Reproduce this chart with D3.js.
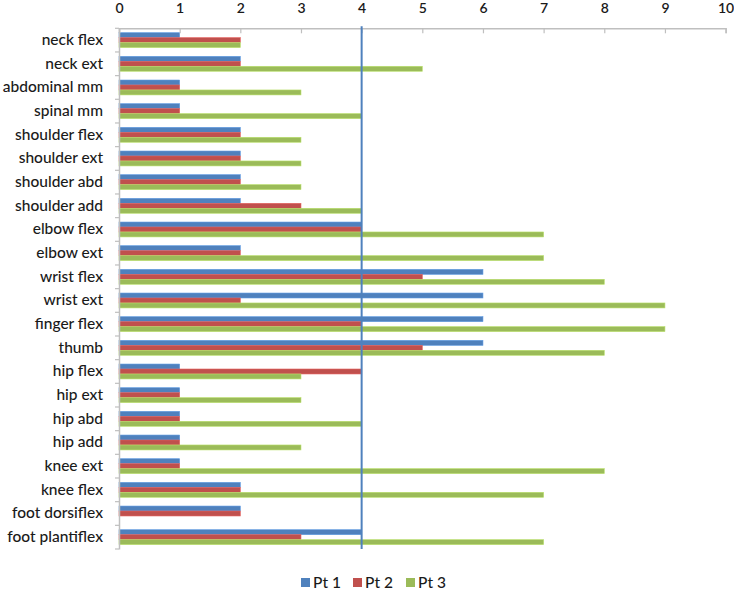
<!DOCTYPE html>
<html><head><meta charset="utf-8">
<script src="https://cdn.jsdelivr.net/npm/d3@7"></script>
<style>body{margin:0;background:#fff;} svg{display:block;}</style>
</head><body>
<svg id="c" width="734" height="590"></svg>
<script>
const categories = ["neck flex","neck ext","abdominal mm","spinal mm","shoulder flex","shoulder ext","shoulder abd","shoulder add","elbow flex","elbow ext","wrist flex","wrist ext","finger flex","thumb","hip flex","hip ext","hip abd","hip add","knee ext","knee flex","foot dorsiflex","foot plantiflex"];
const pt1 = [1,2,1,1,2,2,2,2,4,2,6,6,6,6,1,1,1,1,1,2,2,4];
const pt2 = [2,2,1,1,2,2,2,3,4,2,5,2,4,5,4,1,1,1,1,2,2,3];
const pt3 = [2,5,3,4,3,3,3,4,7,7,8,9,9,8,3,3,4,3,8,7,0,7];
const seriesNames = ["Pt 1","Pt 2","Pt 3"];
const seriesColors = ["#4F81BD","#C0504D","#9BBB59"];
const xTicks = [0,1,2,3,4,5,6,7,8,9,10];
const refValue = 4;

const series = [pt1, pt2, pt3];
const svg = d3.select("#c");
const pL = 119, pR = 725.6, pT = 28.3, pB = 549;
const x = d3.scaleLinear().domain([0,10]).range([pL,pR]);
const y = d3.scaleBand().domain(categories).range([pT,pB]).paddingInner(0.37).paddingOuter(0.185);
const sub = d3.scaleBand().domain([0,1,2]).range([0,y.bandwidth()]);
const font = "Lato, 'Open Sans', sans-serif";

// bars
const g = svg.append("g");
series.forEach((vals, si) => {
  g.selectAll(null).data(vals).enter().append("rect")
    .attr("x", x(0))
    .attr("y", (d,i) => y(categories[i]) + sub(si))
    .attr("width", d => Math.max(0, x(d) - x(0)))
    .attr("height", sub.bandwidth())
    .attr("fill", seriesColors[si])
    .attr("stroke", d3.color(seriesColors[si]).brighter(0.5))
    .attr("stroke-width", 0.6)
    .attr("display", d => d > 0 ? null : "none");
});

// top axis
const ax = svg.append("g").attr("transform", `translate(0,${pT})`)
  .call(d3.axisTop(x).tickValues(xTicks).tickSize(-5).tickPadding(15.5).tickFormat(d3.format("d")));
ax.select(".domain").attr("stroke", "#BFBFBF").attr("stroke-width", 1.5);
ax.selectAll(".tick line").attr("stroke", "#BFBFBF").attr("stroke-width", 1.2);
ax.selectAll(".tick text").attr("font-family", font).attr("font-size", 14).attr("fill", "#1a1a1a").attr("font-weight", 600);

// left axis
const band = (pB - pT) / categories.length;
const ay = svg.append("g").attr("transform", `translate(${pL},0)`)
  .call(d3.axisLeft(y).tickSize(0).tickPadding(16));
ay.select(".domain").attr("stroke", "#BFBFBF").attr("stroke-width", 1.5);
ay.selectAll(".tick text").attr("font-family", font).attr("font-size", 15.5).attr("fill", "#1a1a1a").attr("font-weight", 500);
// boundary ticks
const bounds = d3.range(categories.length + 1).map(i => pT + i * band);
svg.append("g").selectAll("line").data(bounds).enter().append("line")
  .attr("x1", pL - 4).attr("x2", pL).attr("y1", d => d).attr("y2", d => d)
  .attr("stroke", "#BFBFBF").attr("stroke-width", 1.2);

// reference line
svg.append("line").attr("x1", x(refValue)).attr("x2", x(refValue))
  .attr("y1", pT - 2).attr("y2", pB)
  .attr("stroke", "#4F81BD").attr("stroke-width", 2);

// legend
const legendX = [301, 353, 406];
const lg = svg.append("g");
seriesNames.forEach((n, i) => {
  lg.append("rect").attr("x", legendX[i]).attr("y", 578).attr("width", 9).attr("height", 9).attr("fill", seriesColors[i]);
  lg.append("text").attr("x", legendX[i] + 12).attr("y", 587.5).text(n)
    .attr("font-family", font).attr("font-size", 15.5).attr("fill", "#1a1a1a").attr("font-weight", 500);
});
</script>
</body></html>
